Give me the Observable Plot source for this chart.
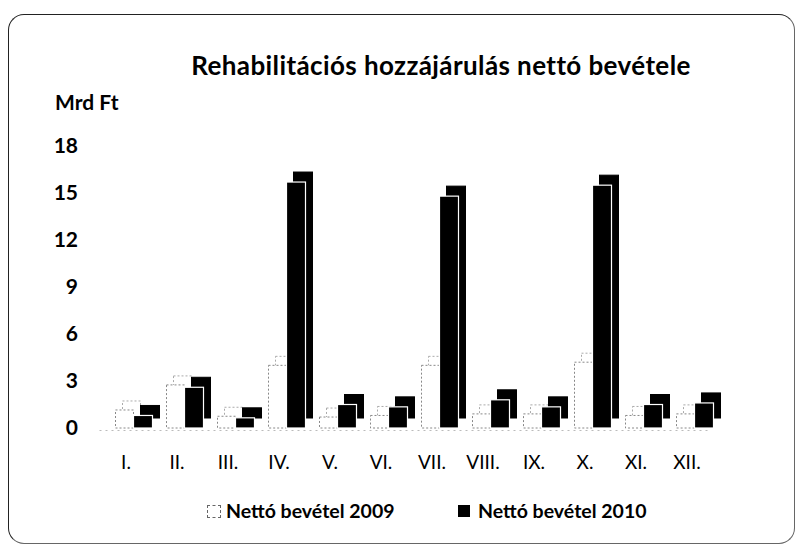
<!DOCTYPE html>
<html>
<head>
<meta charset="utf-8">
<script src="https://cdn.jsdelivr.net/npm/d3@7"></script>
<script src="https://cdn.jsdelivr.net/npm/@observablehq/plot@0.6"></script>
<style>
  body { margin: 0; background: #fff; }
  #wrap { position: relative; width: 797px; height: 552px; background: #fff; overflow: hidden; font-family: Lato, "Open Sans", sans-serif; color: #000; }
  .frame { position: absolute; left: 8px; top: 14px; width: 785px; height: 528px; border: 1.5px solid #222; border-bottom-color: #666; border-right-color: #666; border-radius: 16px; }
  #title { position: absolute; left: 141px; width: 600px; top: 49px; text-align: center; font-weight: 700; font-size: 26px; letter-spacing: 0.4px; line-height: 32px; white-space: nowrap; }
  #unit { position: absolute; left: 55px; top: 90px; font-weight: 700; font-size: 21px; line-height: 24px; white-space: nowrap; }
  #chart { position: absolute; left: 0; top: 0; }
  .leg { position: absolute; top: 499px; font-weight: 700; font-size: 19.5px; line-height: 24px; white-space: nowrap; display: flex; align-items: center; }
  .sw { display: inline-block; margin-right: 5px; box-sizing: border-box; }
</style>
</head>
<body>
<div id="wrap">
  <div class="frame"></div>
  <div id="title">Rehabilitációs hozzájárulás nettó bevétele</div>
  <div id="unit">Mrd Ft</div>
  <div id="chart"></div>
  <div class="leg" style="left:207px"><span class="sw" style="width:14px;height:13px;border:1.5px dashed #666;background:#fff"></span>Nettó bevétel 2009</div>
  <div class="leg" style="left:458px"><span class="sw" style="width:12px;height:12px;background:#000;margin-right:8px"></span>Nettó bevétel 2010</div>
</div>
<script>
const months = ["I.","II.","III.","IV.","V.","VI.","VII.","VIII.","IX.","X.","XI.","XII."];
const netto2009 = [1.15, 2.75, 0.75, 4.0, 0.7, 0.8, 4.0, 0.9, 0.9, 4.2, 0.8, 0.9];
const netto2010 = [0.8, 2.6, 0.65, 15.7, 1.5, 1.35, 14.8, 1.8, 1.35, 15.5, 1.5, 1.6];
const yTicks = [0, 3, 6, 9, 12, 15, 18];

const plot = Plot.plot({
  width: 797,
  height: 480,
  marginLeft: 99.5,
  marginRight: 85.5,
  marginTop: 146,
  marginBottom: 52,
  style: { fontFamily: "Lato, 'Open Sans', sans-serif", background: "transparent", overflow: "visible" },
  x: { domain: months, padding: 0, label: null },
  y: { domain: [0, 18], ticks: yTicks, label: null },
  marks: [
    Plot.ruleY([0], { stroke: "#bbb", strokeDasharray: "2,4", dy: 2 }),
    // 2009 bars (light, dashed outline) with pseudo-3D depth
    Plot.barY(months, { x: months, y: netto2009, insetLeft: 16.5, insetRight: 16.5, dx: 6, dy: -9, fill: "#fff", stroke: "#aaa", strokeDasharray: "2,2" }),
    Plot.barY(months, { x: months, y: netto2009, insetLeft: 16.5, insetRight: 16.5, dx: -1, fill: "#fff", stroke: "#888", strokeDasharray: "2,2" }),
    // 2010 bars (black) with pseudo-3D depth
    Plot.barY(months, { x: months, y: netto2010, insetLeft: 16, insetRight: 16, dx: 24.5, dy: -10, fill: "#000", stroke: "#000" }),
    Plot.barY(months, { x: months, y: netto2010, insetLeft: 16, insetRight: 16, dx: 17.5, fill: "#000", stroke: "#fff", strokeWidth: 1.2 }),
    Plot.axisY({ ticks: yTicks, tickSize: 0, tickPadding: 22, fontSize: 21, fontWeight: 700, label: null }),
    Plot.axisX({ tickSize: 0, tickPadding: 27, fontSize: 19, label: null })
  ]
});
document.getElementById("chart").appendChild(plot);
</script>
</body>
</html>
